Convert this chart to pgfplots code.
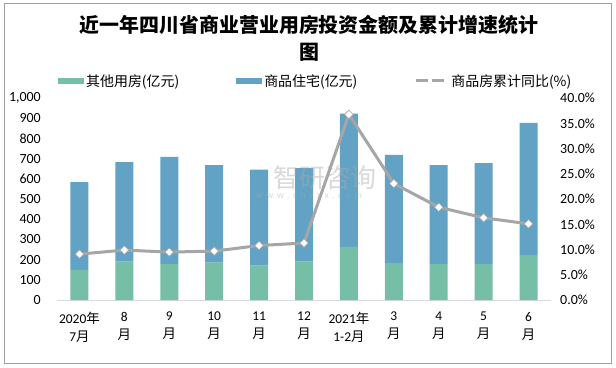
\documentclass[border=0pt]{standalone}
\usepackage{pgfplots}
\pgfplotsset{compat=1.18}
\usepackage{fontspec}
\setmainfont{Carlito}
\newfontfamily\cjk{Noto Sans CJK SC}
\definecolor{cgreen}{RGB}{118,190,165}
\definecolor{cblue}{RGB}{98,162,197}
\definecolor{cline}{RGB}{166,166,166}
\definecolor{caxis}{RGB}{217,217,217}
\definecolor{cframe}{RGB}{160,160,160}
\definecolor{cwm}{RGB}{170,170,170}
\pgfplotstableread{
x green blue rate
0 149 436 9.1
1 190 494 9.9
2 178 531 9.5
3 185 484 9.7
4 170 476 10.8
5 190 464 11.3
6 263 661 36.8
7 183 536 23.1
8 178 491 18.4
9 178 501 16.3
10 223 655 15.1
}\datatable
\begin{document}
\begin{tikzpicture}[x=1bp,y=1bp]
\path (0,0) rectangle (616,367);
\draw[cframe, line width=0.8bp] (4,4) rectangle (611,364);
\node[font=\cjk\bfseries\fontsize{20}{24}\selectfont] at (309,342) {近一年四川省商业营业用房投资金额及累计增速统计};
\node[font=\cjk\bfseries\fontsize{20}{24}\selectfont] at (309,315) {图};
\begin{axis}[
  at={(57bp,67bp)}, anchor=south west, scale only axis,
  width=494bp, height=201.7bp,
  xmin=-0.5, xmax=10.5, ymin=0, ymax=1000,
  ybar stacked, bar width=18bp,
  axis x line*=bottom, axis y line*=left,
  x axis line style={-, draw=caxis, line width=1bp},
  y axis line style={draw=none},
  major tick length=0pt,
  ytick={0,100,...,1000},
  /pgf/number format/assume math mode=true,
  /pgf/number format/1000 sep={,},
  yticklabel style={font=\fontsize{14}{16}\selectfont, inner sep=0pt, anchor=east, xshift=-16bp},
  xtick={0,...,10},
  xticklabels={{2020{\cjk 年}\\7{\cjk 月}},{8\\{\cjk 月}},{9\\{\cjk 月}},{10\\{\cjk 月}},{11\\{\cjk 月}},{12\\{\cjk 月}},{2021{\cjk 年}\\1-2{\cjk 月}},{3\\{\cjk 月}},{4\\{\cjk 月}},{5\\{\cjk 月}},{6\\{\cjk 月}}},
  xticklabel style={font=\fontsize{13.5}{18}\selectfont, align=center, anchor=north, inner sep=0pt, yshift=-12bp},
  legend columns=3,
  legend style={draw=none, fill=none, inner sep=0pt, anchor=west,
    at={(axis description cs:0.002,1.0858)},
    font=\cjk\fontsize{14}{16}\selectfont,
    /tikz/every even column/.append style={column sep=55bp}},
]
\addplot[fill=cgreen, draw=none, legend image code/.code={\fill[cgreen] (0,-3bp) rectangle (26bp,3bp);}] table[x=x,y=green] {\datatable};
\addlegendentry{其他用房(亿元)}
\addplot[fill=cblue, draw=none, legend image code/.code={\fill[cblue] (0,-3bp) rectangle (26bp,3bp);}] table[x=x,y=blue] {\datatable};
\addlegendentry{商品住宅(亿元)}
\addlegendimage{legend image code/.code={\draw[cline, line width=3bp, dash pattern=on 12bp off 4bp] (0,0) -- (32bp,0);}}
\addlegendentry{商品房累计同比(\%)}
\end{axis}
\begin{axis}[
  at={(57bp,67bp)}, anchor=south west, scale only axis,
  width=494bp, height=201.7bp,
  xmin=-0.5, xmax=10.5, ymin=0, ymax=40,
  axis x line=none, axis y line*=right,
  y axis line style={draw=none},
  major tick length=0pt,
  ytick={0,5,...,40},
  /pgf/number format/assume math mode=true,
  yticklabel={\pgfmathprintnumber[fixed,fixed zerofill,precision=1]{\tick}\%},
  yticklabel style={font=\fontsize{14}{16}\selectfont, inner sep=0pt, anchor=west, xshift=9bp},
]
\addplot[cline, line width=3bp, mark=square*, mark size=3bp, mark options={rotate=45, fill=white, draw=cline, line width=0.6bp}] table[x=x,y=rate] {\datatable};
\end{axis}
% watermark (over the chart, faint)
\node[font=\cjk\fontsize{26}{28}\selectfont, text=cwm, text opacity=0.45] at (325,189) {智研咨询};
\node[font=\fontsize{10}{12}\selectfont, text=cwm, text opacity=0.45] at (309,171) {w\,\,w\,\,w\,\,.\,\,c\,\,h\,\,y\,\,x\,\,x\,\,.\,\,c\,\,o\,\,m};
\end{tikzpicture}
\end{document}
